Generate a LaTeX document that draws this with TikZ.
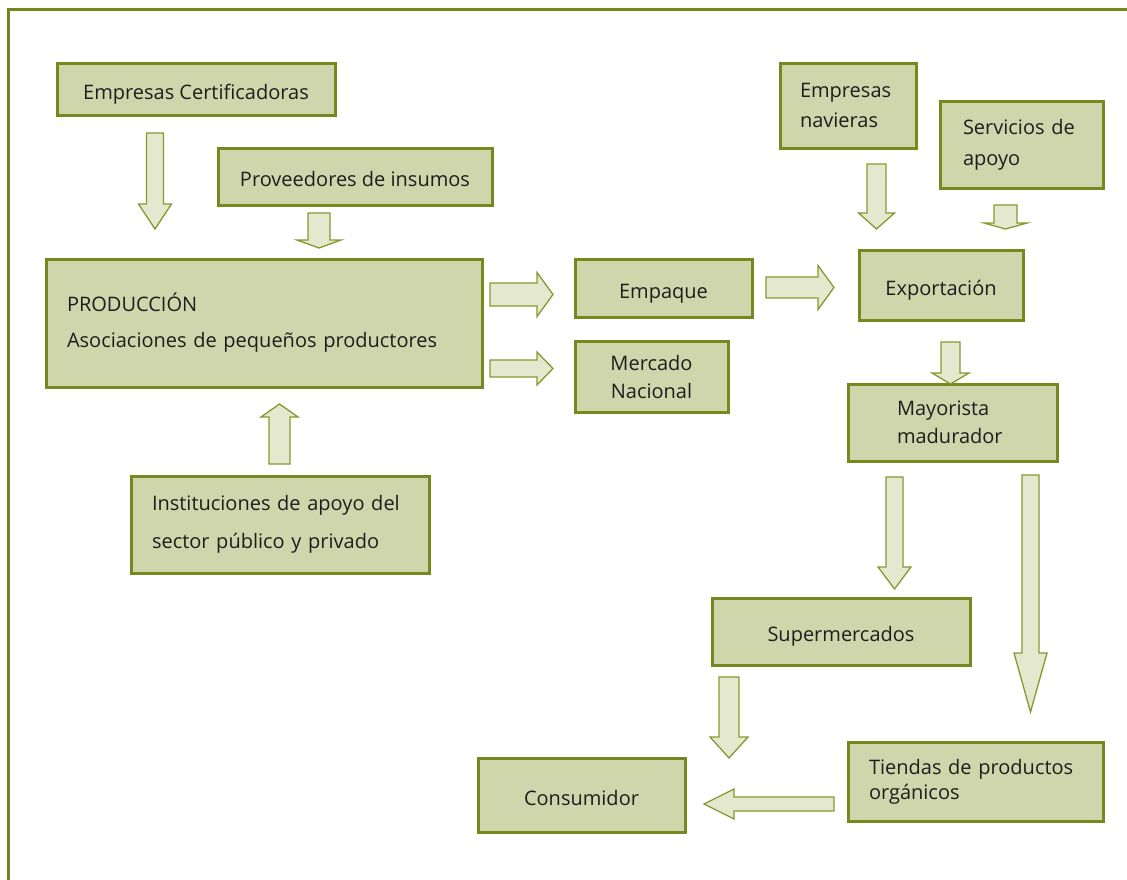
\documentclass[tikz,border=0pt]{standalone}
\usepackage{fontspec}
\setmainfont{Open Sans}
\definecolor{boxline}{RGB}{118,136,30}
\definecolor{boxfill}{RGB}{207,214,172}
\definecolor{arrfill}{RGB}{228,232,206}
\definecolor{arrline}{RGB}{135,152,45}
\definecolor{frameline}{RGB}{110,138,30}
\definecolor{ink}{RGB}{30,30,30}
% vertical block arrow: x, start y, neck y, tip y, shaft half width, head half width
\newcommand\arrv[6]{\draw[blockarrow] ({#1-#5},#2) -- ({#1+#5},#2) -- ({#1+#5},#3) -- ({#1+#6},#3) -- (#1,#4) -- ({#1-#6},#3) -- ({#1-#5},#3) -- cycle;}
% horizontal block arrow: y, start x, neck x, tip x, shaft half width, head half width
\newcommand\arrh[6]{\draw[blockarrow] (#2,{#1-#5}) -- (#3,{#1-#5}) -- (#3,{#1-#6}) -- (#4,#1) -- (#3,{#1+#6}) -- (#3,{#1+#5}) -- (#2,{#1+#5}) -- cycle;}
\begin{document}
\begin{tikzpicture}[x=1pt,y=-1pt,
  box/.style={draw=boxline, fill=boxfill, line width=3pt, text=ink, inner ysep=0pt, font=\fontsize{20}{26}\selectfont},
  onebox/.style={box, align=center, text height=22pt, text depth=2pt},
  blockarrow/.style={draw=arrline, fill=arrfill, line width=1.3pt, line join=miter}]
\useasboundingbox (0,0) rectangle (1127,879);
\clip (0,0) rectangle (1127,879);
\draw[frameline, line width=3pt] (8.5,885) -- (8.5,9.5) -- (1135,9.5);

% boxes
\node[onebox, minimum width=278, minimum height=52] (cert) at (196,89) {Empresas Certificadoras};
\node[onebox, minimum width=274, minimum height=57] (prov) at (355,176.5) {Proveedores de insumos};
\node[box, minimum height=128, text width=394, inner xsep=21, align=left, font=\fontsize{20}{36}\selectfont] (prod) at (264,323) {PRODUCCIÓN\\Asociaciones de pequeños productores};
\node[box, minimum height=97, text width=256, inner xsep=21, align=left, font=\fontsize{20}{38}\selectfont] (inst) at (280,524.5) {Instituciones de apoyo del\\sector público y privado};
\node[onebox, minimum width=177, minimum height=58] (emp) at (663.5,288) {Empaque};
\node[box, minimum width=153, minimum height=71, align=center, font=\fontsize{20}{28}\selectfont] (merc) at (651.5,376.5) {Mercado\\Nacional};
\node[box, minimum height=85, text width=96, inner xsep=20, align=left, font=\fontsize{20}{30}\selectfont] (nav) at (848,105.5) {Empresas\\navieras};
\node[box, minimum height=87, text width=117, inner xsep=23, align=left, font=\fontsize{20}{31}\selectfont] (serv) at (1021.5,144.5) {Servicios de\\apoyo};
\node[onebox, minimum width=164, minimum height=70] (exp) at (941,285) {Exportación};
\node[box, minimum height=77, text width=111, inner xsep=49, align=left, font=\fontsize{20}{28}\selectfont] (may) at (952.5,422.5) {Mayorista\\madurador};
\node[onebox, minimum width=258, minimum height=67] (sup) at (841,631.5) {Supermercados};
\node[box, minimum height=79, text width=213, inner xsep=21, align=left, font=\fontsize{20}{25}\selectfont] (tien) at (975.5,781.5) {Tiendas de productos\\orgánicos};
\node[onebox, minimum width=207, minimum height=74] (cons) at (581.5,795) {Consumidor};

% flow arrows
\arrv{155}{133}{204}{229}{8.5}{16.5}
\arrv{319}{213}{240}{248}{11}{22}
\arrv{279.5}{464}{417}{404}{10.5}{18.5}
\arrv{876.5}{164}{213}{229}{9.5}{18}
\arrv{1005.5}{205}{223}{229}{11.5}{21.5}
\arrv{950.5}{342}{373}{384}{9.5}{18.5}
\arrv{894.5}{477}{567}{589}{8.5}{16.5}
\arrv{1030.5}{475}{653}{712}{8.5}{16.5}
\arrv{729}{677}{737}{758}{10}{19}
\arrh{294.5}{490}{537}{553}{11.5}{22}
\arrh{368.5}{490}{537}{553}{8.5}{16.5}
\arrh{287.5}{766}{818}{834}{10.5}{22}
\arrh{804}{834}{734}{704}{7}{15}
\end{tikzpicture}
\end{document}
